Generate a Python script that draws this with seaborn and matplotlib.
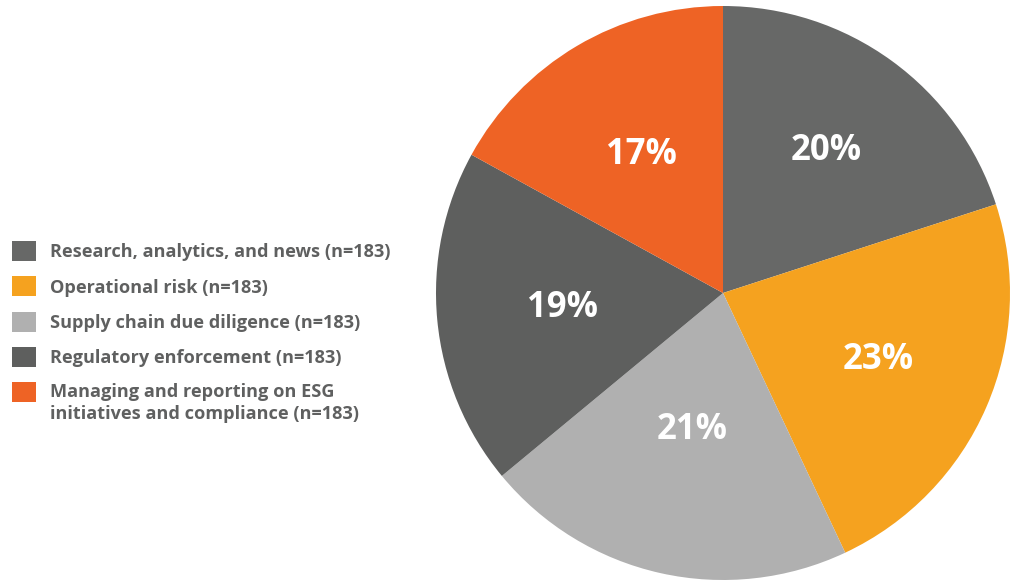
import numpy as np
import matplotlib.pyplot as plt
import seaborn as sns
from matplotlib.patches import Patch, Rectangle
from matplotlib.legend_handler import HandlerPatch

categories = [
    "Research, analytics, and news (n=183)",
    "Operational risk (n=183)",
    "Supply chain due diligence (n=183)",
    "Regulatory enforcement (n=183)",
    "Managing and reporting on ESG\ninitiatives and compliance (n=183)",
]
shares = [20, 23, 21, 19, 17]
colors = ["#676867", "#F5A21F", "#B0B0B0", "#5E5F5E", "#EE6325"]
label_dist = [0.61, 0.59, 0.49, 0.56, 0.56]

sns.set_theme(style="white")
plt.rcParams["font.family"] = ["Open Sans", "DejaVu Sans"]
palette = sns.color_palette(colors)

fig = plt.figure(figsize=(10.1, 5.8), dpi=100)
ax = fig.add_axes([436 / 1010, 0, 574 / 1010, 574 / 580])
wedges, _, autotexts = ax.pie(
    shares, colors=palette, startangle=90, counterclock=False,
    autopct="%d%%", pctdistance=0.58, radius=1,
    wedgeprops=dict(linewidth=0),
    textprops=dict(color="white", fontsize=25, fontweight="bold"),
)
for w, t, d in zip(wedges, autotexts, label_dist):
    ang = np.deg2rad((w.theta1 + w.theta2) / 2)
    t.set_position((d * np.cos(ang), d * np.sin(ang)))
ax.set_xlim(-1, 1)
ax.set_ylim(-1, 1)
ax.set_aspect("equal")
ax.axis("off")


# square for the two-line entry sits beside its first line
def top_square(legend, orig_handle, xdescent, ydescent, width, height, fontsize):
    return Rectangle((-xdescent, -ydescent + 0.65 * fontsize), width, height)


fs = 13.1
handles = [Patch(facecolor=c, edgecolor="none") for c in palette]
handler_map = {handles[-1]: HandlerPatch(patch_func=top_square)}
leg = fig.legend(
    handles, categories, loc="upper left", bbox_to_anchor=(12 / 1010, 1 - 241 / 580),
    frameon=False, fontsize=fs, handlelength=1.32, handleheight=1.32,
    handletextpad=0.78, labelspacing=0.84, borderaxespad=0, borderpad=0,
    handler_map=handler_map,
)
for t in leg.get_texts():
    t.set_color("#5F6060")
    t.set_fontweight("bold")
    t.set_linespacing(1.3)

fig.savefig("out.png", dpi=100)
